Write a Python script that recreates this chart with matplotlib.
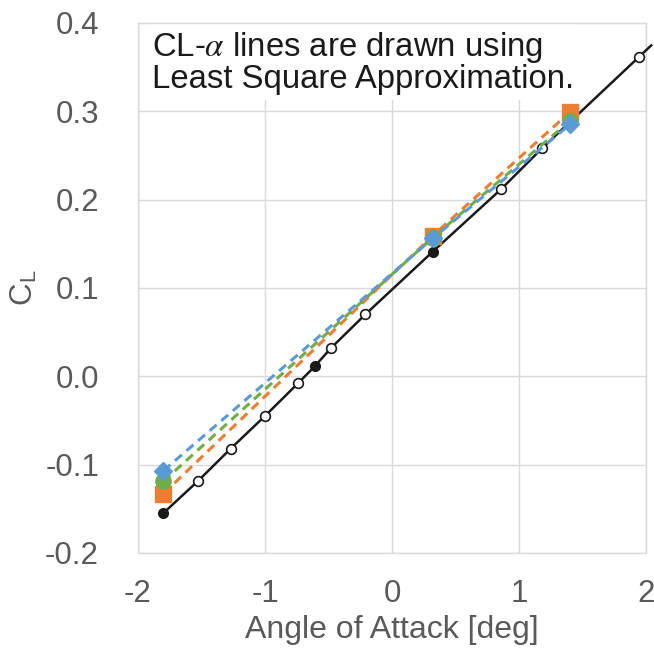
import matplotlib
matplotlib.use("Agg")
import matplotlib.pyplot as plt
import numpy as np

plt.rcParams['font.family'] = ['Liberation Sans', 'DejaVu Sans']
plt.rcParams['mathtext.fontset'] = 'stix'

# reference curve (black), filled points at -1.8, -0.61, 0.32
alpha_ref = [-1.80, -1.53, -1.27, -1.00, -0.74, -0.61, -0.48, -0.21, 0.32, 0.86, 1.18, 1.94]
cl_ref = [-0.155, -0.119, -0.082, -0.045, -0.008, 0.011, 0.032, 0.070, 0.141, 0.212, 0.258, 0.361]
filled_ref = [True, False, False, False, False, True, False, False, True, False, False, False]

# three compared cases (dashed)
alpha_cases = [-1.80, 0.32, 1.40]
cl_orange = [-0.133, 0.159, 0.299]
cl_green = [-0.119, 0.157, 0.289]
cl_blue = [-0.107, 0.156, 0.285]

fig = plt.figure(figsize=(6.54, 6.55), dpi=100)
ax = fig.add_axes([0.211, 0.156, 0.777, 0.809])

grid_c = '#d9d9d9'
ax.set_xlim(-2, 2)
ax.set_ylim(-0.2, 0.4)
ax.set_xticks([-2, -1, 0, 1, 2])
ax.set_yticks([-0.2, -0.1, 0.0, 0.1, 0.2, 0.3, 0.4])
ax.set_yticklabels(['-0.2', '-0.1', '0.0', '0.1', '0.2', '0.3', '0.4'])
ax.set_xticklabels(['-2', '-1', '0', '1', '2'])
ax.grid(True, color=grid_c, linewidth=1.0)
ax.set_axisbelow(True)
for s in ax.spines.values():
    s.set_color(grid_c)
    s.set_linewidth(1.0)
ax.tick_params(length=0, labelsize=22.5, colors='#595959')
ax.tick_params(axis='y', pad=28)
ax.tick_params(axis='x', pad=19)

# black line, slightly extended past the last point like the original
a = np.array(alpha_ref)
c = np.array(cl_ref)
slope = (c[-1] - c[-2]) / (a[-1] - a[-2])
a_ext = np.append(a, 2.04)
c_ext = np.append(c, c[-1] + slope * (2.04 - a[-1]))
ax.plot(a_ext, c_ext, color='#1a1a1a', linewidth=1.8, zorder=3, clip_on=False)
fa = a[np.array(filled_ref)]
fc = c[np.array(filled_ref)]
oa = a[~np.array(filled_ref)]
oc = c[~np.array(filled_ref)]
ax.plot(fa, fc, 'o', color='#1a1a1a', markersize=7, zorder=4)
ax.plot(oa, oc, 'o', markerfacecolor='white', markeredgecolor='#1a1a1a',
        markeredgewidth=1.2, markersize=7, zorder=4, clip_on=False)

ax.plot(alpha_cases, cl_orange, '--', color='#ED7D31', linewidth=2.2,
        marker='s', markersize=11, zorder=5, dashes=(3, 2))
ax.plot(alpha_cases, cl_green, '--', color='#70AD47', linewidth=2.2,
        marker='o', markersize=11, zorder=6, dashes=(3, 2))
ax.plot(alpha_cases, cl_blue, '--', color='#5B9BD5', linewidth=2.2,
        marker='D', markersize=9, zorder=7, dashes=(3, 2))

ax.text(0.027, 0.987, 'CL-$\\alpha$ lines are drawn using\nLeast Square Approximation.',
        transform=ax.transAxes, fontsize=23.7, color='#1a1a1a', va='top', ha='left',
        linespacing=0.98, zorder=2,
        bbox=dict(facecolor='white', edgecolor='none', pad=3))

ax.set_xlabel('Angle of Attack [deg]', fontsize=23, color='#595959', labelpad=4)
ax.set_ylabel('C$_\\mathregular{L}$', fontsize=22.5, color='#595959', labelpad=4)

fig.savefig('out.png', dpi=100)
